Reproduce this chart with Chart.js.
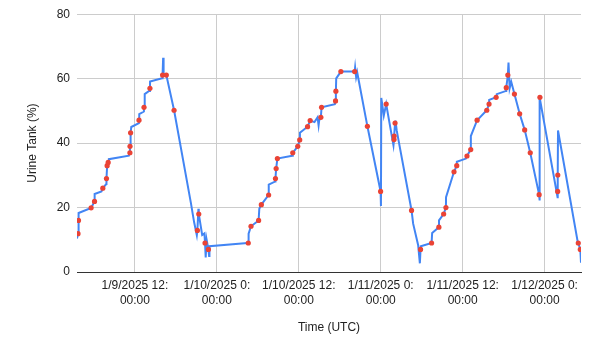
<!DOCTYPE html>
<html>
<head>
<meta charset="utf-8">
<script src="https://cdn.jsdelivr.net/npm/chart.js@4"></script>
<style>
    html, body { margin: 0; padding: 0; background: #fff; }
    #chartBox { width: 600px; height: 340px; }
</style>
</head>
<body>
<div id="chartBox"><canvas id="chartTank" width="600" height="340"></canvas></div>
<script>
// readings (UTC) -- tank level in %, marker = 1 where the reading shows a red dot
const readTimes = [
    "2025-01-09T03:31", "2025-01-09T03:40", "2025-01-09T03:44", "2025-01-09T03:46", "2025-01-09T05:35",
    "2025-01-09T06:05", "2025-01-09T06:06", "2025-01-09T07:06", "2025-01-09T07:18", "2025-01-09T07:48",
    "2025-01-09T07:50", "2025-01-09T07:56", "2025-01-09T08:05", "2025-01-09T08:11", "2025-01-09T11:07",
    "2025-01-09T11:16", "2025-01-09T11:17", "2025-01-09T11:22", "2025-01-09T11:28", "2025-01-09T12:35",
    "2025-01-09T12:36", "2025-01-09T12:38", "2025-01-09T13:19", "2025-01-09T13:20", "2025-01-09T13:26",
    "2025-01-09T14:04", "2025-01-09T14:12", "2025-01-09T14:13", "2025-01-09T15:58", "2025-01-09T16:03",
    "2025-01-09T16:08", "2025-01-09T16:12", "2025-01-09T16:36", "2025-01-09T17:44", "2025-01-09T20:11",
    "2025-01-09T20:40", "2025-01-09T21:04", "2025-01-09T21:09", "2025-01-09T21:18", "2025-01-09T21:21",
    "2025-01-09T21:51", "2025-01-09T22:11", "2025-01-09T22:16", "2025-01-09T22:22", "2025-01-09T22:30",
    "2025-01-09T22:46", "2025-01-09T22:52", "2025-01-09T22:55",
    "2025-01-10T04:30", "2025-01-10T04:36", "2025-01-10T04:39", "2025-01-10T05:00", "2025-01-10T06:07",
    "2025-01-10T06:13", "2025-01-10T06:31", "2025-01-10T07:35", "2025-01-10T07:36", "2025-01-10T08:34",
    "2025-01-10T08:35", "2025-01-10T08:41", "2025-01-10T08:52", "2025-01-10T11:02", "2025-01-10T11:07",
    "2025-01-10T11:51", "2025-01-10T12:08", "2025-01-10T12:10", "2025-01-10T13:17", "2025-01-10T13:40",
    "2025-01-10T14:18", "2025-01-10T14:45", "2025-01-10T14:54", "2025-01-10T14:59", "2025-01-10T15:14",
    "2025-01-10T15:20", "2025-01-10T17:17", "2025-01-10T17:23", "2025-01-10T17:26", "2025-01-10T17:29",
    "2025-01-10T18:10", "2025-01-10T20:11", "2025-01-10T20:15", "2025-01-10T20:24", "2025-01-10T20:33",
    "2025-01-10T22:03", "2025-01-10T22:10", "2025-01-10T23:59",
    "2025-01-11T00:02", "2025-01-11T00:05", "2025-01-11T00:27", "2025-01-11T00:48", "2025-01-11T01:52",
    "2025-01-11T01:57", "2025-01-11T01:58", "2025-01-11T02:06", "2025-01-11T02:10", "2025-01-11T02:20",
    "2025-01-11T04:31", "2025-01-11T04:45", "2025-01-11T05:29", "2025-01-11T05:44", "2025-01-11T05:50",
    "2025-01-11T05:52", "2025-01-11T07:27", "2025-01-11T07:32", "2025-01-11T08:31", "2025-01-11T08:32",
    "2025-01-11T09:13", "2025-01-11T09:33", "2025-01-11T09:34", "2025-01-11T10:44", "2025-01-11T11:08",
    "2025-01-11T11:09", "2025-01-11T12:29", "2025-01-11T12:38", "2025-01-11T13:11", "2025-01-11T13:12",
    "2025-01-11T14:07", "2025-01-11T15:32", "2025-01-11T15:52", "2025-01-11T15:53", "2025-01-11T16:54",
    "2025-01-11T17:00", "2025-01-11T18:22", "2025-01-11T18:23", "2025-01-11T18:34", "2025-01-11T18:37",
    "2025-01-11T18:43", "2025-01-11T18:53", "2025-01-11T19:07", "2025-01-11T19:35", "2025-01-11T20:21",
    "2025-01-11T21:05", "2025-01-11T21:54", "2025-01-11T23:12", "2025-01-11T23:14", "2025-01-11T23:19",
    "2025-01-12T01:54", "2025-01-12T01:55", "2025-01-12T01:56", "2025-01-12T01:58", "2025-01-12T04:54",
    "2025-01-12T04:56", "2025-01-12T05:14", "2025-01-12T05:20"
];
const tankLevels = [
    10.4, 11.9, 16.0, 18.3, 19.9,
    21.9, 24.2, 25.0, 26.0, 27.3,
    29.0, 33.0, 34.0, 35.0, 36.1,
    37.0, 39.0, 43.2, 45.0, 46.2,
    47.1, 49.0, 49.8, 51.1, 55.2,
    56.2, 57.0, 59.1, 60.1, 61.1,
    66.5, 61.0, 61.1, 50.2, 21.6,
    15.5, 11.4, 12.9, 19.6, 18.0,
    11.5, 12.0, 9.0, 4.5, 10.0,
    7.0, 5.0, 8.0,
    9.0, 9.0, 11.9, 14.2, 16.0,
    19.6, 20.9, 23.9, 27.1, 28.1,
    29.0, 32.1, 35.2, 36.1, 37.0,
    39.0, 41.0, 43.2, 45.1, 47.0,
    46.5, 48.0, 45.5, 47.0, 48.0,
    51.1, 52.1, 53.1, 56.1, 60.1,
    62.2, 62.2, 63.5, 60.5, 62.0,
    45.2, 44.0, 25.0,
    20.5, 54.0, 48.5, 52.1, 39.3,
    41.1, 42.2, 46.2, 47.0, 44.0,
    19.1, 15.0, 8.3, 2.7, 7.0,
    8.0, 9.0, 12.1, 13.9, 16.0,
    18.0, 20.0, 23.2, 31.1, 33.0,
    34.2, 35.2, 36.0, 38.0, 42.2,
    47.1, 50.2, 52.1, 53.4, 54.2,
    55.2, 56.2, 57.2, 60.1, 61.1,
    65.0, 57.0, 59.0, 55.2, 49.1,
    44.1, 37.0, 24.0, 22.2, 54.2,
    23.2, 25.0, 30.1, 43.9, 8.8,
    9.0, 7.0, 2.9
];
const markers = [
    0, 1, 1, 0, 1,
    1, 0, 0, 1, 0,
    1, 1, 1, 0, 0,
    1, 1, 1, 0, 0,
    1, 0, 0, 1, 0,
    0, 1, 0, 0, 1,
    0, 0, 1, 1, 0,
    0, 0, 1, 0, 1,
    0, 0, 1, 0, 0,
    1, 0, 0,
    0, 1, 0, 1, 1,
    0, 1, 1, 0, 0,
    1, 1, 1, 0, 1,
    1, 1, 0, 1, 1,
    0, 0, 0, 0, 1,
    1, 0, 1, 1, 0,
    1, 1, 0, 0, 0,
    1, 0, 1,
    0, 0, 0, 1, 0,
    1, 1, 1, 0, 0,
    1, 0, 0, 0, 1,
    0, 1, 0, 1, 0,
    1, 1, 0, 1, 1,
    0, 0, 1, 1, 0,
    1, 1, 1, 0, 1,
    0, 0, 1, 0, 1,
    0, 0, 0, 1, 1,
    1, 1, 1, 0, 1,
    0, 1, 1, 0, 0,
    1, 1, 0
];
const tickTimes = [
    "2025-01-09T12:00", "2025-01-10T00:00", "2025-01-10T12:00",
    "2025-01-11T00:00", "2025-01-11T12:00", "2025-01-12T00:00"
];
const levelTicks = [0, 20, 40, 60, 80];

const toMs = (s) => Date.parse(s + ":00Z");

function tickLabel(ms) {
    const d = new Date(ms);
    const first = (d.getUTCMonth() + 1) + "/" + d.getUTCDate() + "/" + d.getUTCFullYear() + " " + d.getUTCHours() + ":";
    const second = String(d.getUTCMinutes()).padStart(2, '0') + ":" + String(d.getUTCSeconds()).padStart(2, '0');
    return [first, second];
}

const points = readTimes.map((t, i) => ({ x: toMs(t), y: tankLevels[i] }));
const xMin = points[0].x;
const xMax = points[points.length - 1].x;

const fontFamily = "Arial, 'Liberation Sans', sans-serif";

const ctxTank = document.getElementById('chartTank').getContext('2d');
let tankChart = new Chart(ctxTank, {
    type: "line",
    data: {
        datasets: [
            {
                label: "Urine Tank (%)",
                data: points,
                borderColor: "#4285f4",
                borderWidth: 2,
                lineTension: 0,
                fill: false,
                pointRadius: markers.map(m => m ? 2.6 : 0),
                pointBackgroundColor: "#ea4335",
                pointBorderWidth: 0,
                pointHoverRadius: 0,
            }
        ]
    },
    options: {
        responsive: false,
        animation: false,
        layout: {
            padding: { top: 12, right: 19, left: 0, bottom: 0 }
        },
        plugins: {
            legend: { display: false },
            tooltip: { enabled: false }
        },
        scales: {
            x: {
                type: "linear",
                min: xMin,
                max: xMax,
                afterBuildTicks: (scale) => {
                    scale.ticks = tickTimes.map(t => ({ value: toMs(t) }));
                },
                afterFit: (scale) => { scale.height = 68; },
                ticks: {
                    autoSkip: false,
                    maxRotation: 0,
                    padding: 6,
                    color: "#222",
                    font: { family: fontFamily, size: 12, lineHeight: 1.25 },
                    callback: (v) => tickLabel(v)
                },
                grid: {
                    color: "#cccccc",
                    lineWidth: 1,
                    drawTicks: false
                },
                border: { display: true, color: "#333333", width: 1 },
                title: {
                    display: true,
                    text: "Time (UTC)",
                    color: "#222",
                    font: { family: fontFamily, size: 12 },
                    padding: { top: 0, bottom: 5 }
                }
            },
            y: {
                min: 0,
                max: 80,
                afterBuildTicks: (scale) => {
                    scale.ticks = levelTicks.map(v => ({ value: v }));
                },
                afterFit: (scale) => { scale.width = 77; },
                ticks: {
                    padding: 7,
                    color: "#222",
                    font: { family: fontFamily, size: 12 }
                },
                grid: {
                    color: (c) => c.tick && c.tick.value === 0 ? "#333333" : "#cccccc",
                    lineWidth: 1,
                    drawTicks: false
                },
                border: { display: false },
                title: {
                    display: true,
                    text: "Urine Tank (%)",
                    color: "#222",
                    font: { family: fontFamily, size: 12 },
                    padding: { top: 25, bottom: 0 }
                }
            }
        }
    }
});
</script>
</body>
</html>
